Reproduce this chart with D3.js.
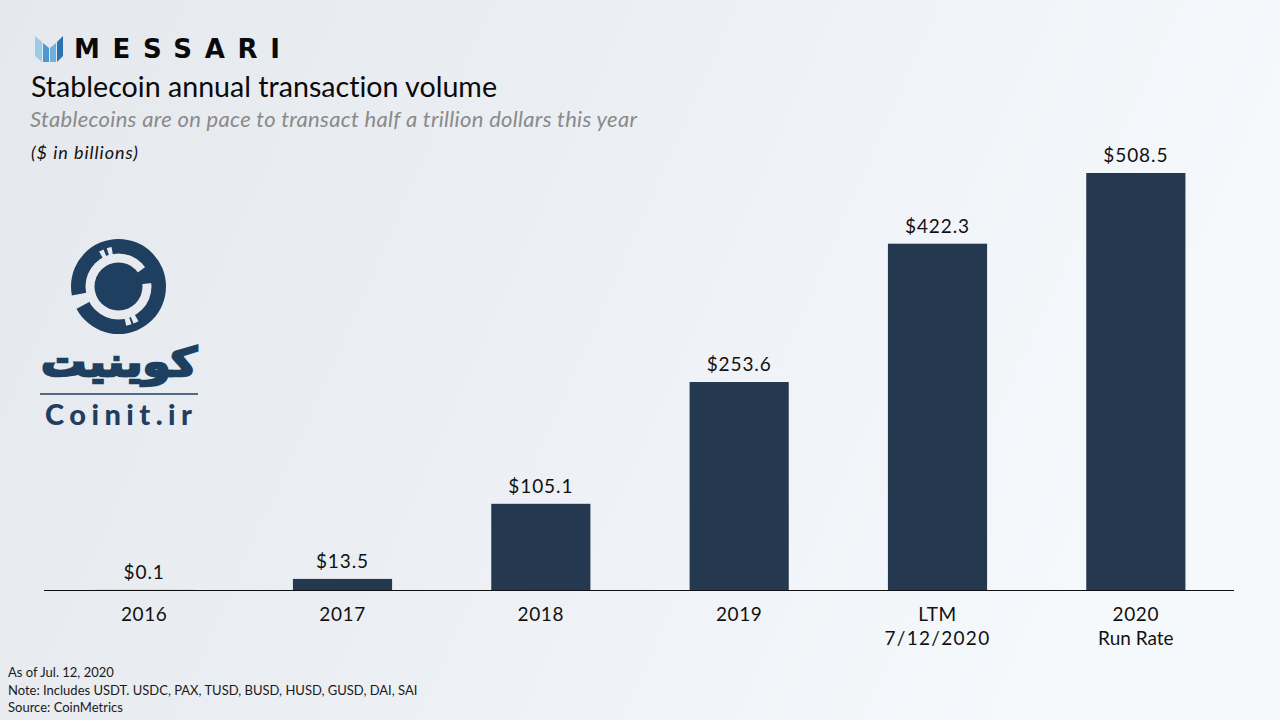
<!DOCTYPE html>
<html>
<head>
<meta charset="utf-8">
<script src="https://cdn.jsdelivr.net/npm/d3@7"></script>
<style>
  html, body { margin: 0; padding: 0; }
  svg { display: block; }
  text { font-family: Lato, sans-serif; font-variant-ligatures: none; }
</style>
</head>
<body>
<div id="chart"></div>
<script>
var categories = ["2016", "2017", "2018", "2019", "LTM", "2020"];
var subLabels = ["", "", "", "", "7/12/2020", "Run Rate"];
var volumes = [0.1, 13.5, 105.1, 253.6, 422.3, 508.5];
var notes = [
  "As of Jul. 12, 2020",
  "Note: Includes USDT. USDC, PAX, TUSD, BUSD, HUSD, GUSD, DAI, SAI",
  "Source: CoinMetrics"
];

var width = 1280, height = 720;
var navy = "#24394f", logoBlue = "#1f3f60", paper = "#e7eaef";

var svg = d3.select("#chart").append("svg")
  .attr("width", width)
  .attr("height", height)
  .attr("viewBox", "0 0 1280 720");

var defs = svg.append("defs");
var bg = defs.append("linearGradient").attr("id", "bg")
  .attr("x1", 0).attr("y1", 0).attr("x2", 1).attr("y2", 0.25);
bg.append("stop").attr("offset", "0%").attr("stop-color", "#e5e8ed");
bg.append("stop").attr("offset", "45%").attr("stop-color", "#ebeef3");
bg.append("stop").attr("offset", "100%").attr("stop-color", "#f6f9fc");

svg.append("rect").attr("width", width).attr("height", height).attr("fill", "url(#bg)");

// Titles
svg.append("text").attr("x", 31).attr("y", 97)
  .attr("textLength", 466).attr("lengthAdjust", "spacingAndGlyphs")
  .style("font-size", "28px").attr("fill", "#0a0a0a")
  .text("Stablecoin annual transaction volume");
svg.append("text").attr("x", 30).attr("y", 127)
  .attr("textLength", 607).attr("lengthAdjust", "spacing")
  .style("font-size", "22px").style("font-style", "italic").attr("fill", "#8a8a8a")
  .text("Stablecoins are on pace to transact half a trillion dollars this year");
svg.append("text").attr("x", 31).attr("y", 159)
  .attr("textLength", 107).attr("lengthAdjust", "spacing")
  .style("font-size", "18px").style("font-style", "italic").attr("fill", "#111")
  .text("($ in billions)");

// Messari logo
svg.append("text").attr("x", 74).attr("y", 58)
  .attr("textLength", 206).attr("lengthAdjust", "spacing")
  .style("font-family", "'DejaVu Sans', sans-serif")
  .style("font-size", "26px").style("font-weight", 700).attr("fill", "#0a0a0a")
  .text("MESSARI");
var mark = svg.append("g");
[
  ["M35 36 L42 42 L42 62 L35 56 Z", "#9ccbea"],
  ["M43 43 L49 48 L49 62 L43 62 Z", "#4f97d1"],
  ["M50 48 L56 43 L56 62 L50 62 Z", "#6fb0de"],
  ["M57 42 L63 36 L63 56 L57 62 Z", "#2a72b2"]
].forEach(function (d) {
  mark.append("path").attr("d", d[0]).attr("fill", d[1]);
});

// Coinit watermark
var coinit = svg.append("g").attr("transform", "translate(118.5,286.5)");
var rad = Math.PI / 180;
function sector(r0, r1, a0, a1) {
  return d3.arc()({ innerRadius: r0, outerRadius: r1, startAngle: a0 * rad, endAngle: a1 * rad });
}
coinit.append("circle").attr("r", 47.5).attr("fill", logoBlue);
coinit.append("circle").attr("r", 33).attr("fill", paper);
coinit.append("circle").attr("r", 24).attr("fill", logoBlue);
// arm joining the disc to the ring
coinit.append("path").attr("d", sector(20, 36, 54, 84)).attr("fill", logoBlue);
// gap in the lower left and the small notches
[[30, 49, 242, 259], [30, 40, 331, 338], [30, 40, 343, 350], [30, 40, 150, 158], [30, 40, 161, 169]]
  .forEach(function (s) {
    coinit.append("path").attr("d", sector(s[0], s[1], s[2], s[3])).attr("fill", paper);
  });

svg.append("text").attr("x", 119).attr("y", 376)
  .attr("text-anchor", "middle").attr("direction", "rtl")
  .attr("textLength", 156).attr("lengthAdjust", "spacingAndGlyphs")
  .style("font-family", "'DejaVu Sans', sans-serif").style("font-size", "40px").style("font-weight", 700)
  .attr("fill", logoBlue).attr("stroke", logoBlue).attr("stroke-width", 2.5)
  .text("کوینیت");
svg.append("line").attr("x1", 40).attr("x2", 198).attr("y1", 394).attr("y2", 394)
  .attr("stroke", logoBlue).attr("stroke-width", 1.5);
svg.append("text").attr("x", 45).attr("y", 425)
  .attr("textLength", 147).attr("lengthAdjust", "spacing")
  .style("font-size", "29px").style("font-weight", 900).attr("fill", logoBlue)
  .text("Coinit.ir");

// Scales
var x = d3.scaleBand().domain(categories).range([45, 1235]).paddingInner(0.5).paddingOuter(0.25);
var y = d3.scaleLinear().domain([0, 508.5]).range([590, 173]);

// Bars
svg.append("g").selectAll("rect")
  .data(volumes)
  .join("rect")
  .attr("x", function (d, i) { return x(categories[i]); })
  .attr("y", function (d) { return y(d); })
  .attr("width", x.bandwidth())
  .attr("height", function (d) { return y(0) - y(d); })
  .attr("fill", navy);

// Value labels
svg.append("g").selectAll("text")
  .data(volumes)
  .join("text")
  .attr("x", function (d, i) { return x(categories[i]) + x.bandwidth() / 2; })
  .attr("y", function (d) { return y(d) - 11; })
  .attr("text-anchor", "middle")
  .style("font-size", "19px").style("letter-spacing", "0.9px")
  .attr("fill", "#111")
  .text(function (d) { return "$" + d.toFixed(1); });

// X axis
var xAxis = svg.append("g")
  .attr("transform", "translate(0,590.5)")
  .call(d3.axisBottom(x).tickSize(0).tickPadding(17));
xAxis.select(".domain").remove();
xAxis.selectAll("text")
  .style("font-family", "Lato, sans-serif").style("font-size", "19px").style("letter-spacing", "0.6px")
  .attr("fill", "#111");
xAxis.selectAll(".tick").append("text")
  .attr("y", 54)
  .attr("text-anchor", "middle")
  .style("font-size", "19px")
  .style("letter-spacing", function (d, i) { return subLabels[i] == "Run Rate" ? "0px" : "1.3px"; })
  .attr("fill", "#111")
  .text(function (d, i) { return subLabels[i]; });
svg.append("line").attr("x1", 44).attr("x2", 1234).attr("y1", 590.5).attr("y2", 590.5)
  .attr("stroke", "#111").attr("stroke-width", 1.2);

// Footnotes
svg.append("g").selectAll("text")
  .data(notes)
  .join("text")
  .attr("x", 8)
  .attr("y", function (d, i) { return 677 + i * 17.5; })
  .style("font-size", "13px").attr("fill", "#1a1a1a")
  .text(function (d) { return d; });
</script>
</body>
</html>
